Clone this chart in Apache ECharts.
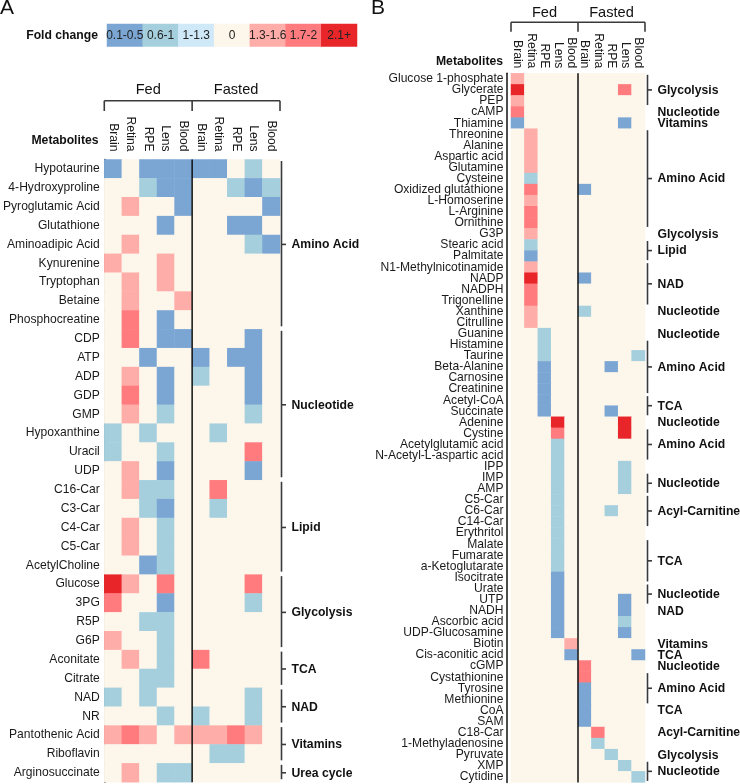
<!DOCTYPE html>
<html><head><meta charset="utf-8">
<script src="https://cdn.jsdelivr.net/npm/echarts@6/dist/echarts.min.js"></script>
<style>html,body{margin:0;padding:0;background:#fff}#c{width:740px;height:784px}</style>
</head><body><div id="c"></div>
<script>
const FONT = 'Liberation Sans, Arial, Helvetica, sans-serif';

// Fold-change classes (code = index)
const legendLabels = ['0.1-0.5','0.6-1','1-1.3','0','1.3-1.6','1.7-2','2.1+'];
const legendColors = ['#7BA6D4','#A6CFDE','#CFE9F9','#FDF6EA','#FFADA8','#FF7B7E','#E8262A'];
const legendCodes = [0,1,2,3,4,5,6];

const conditions = ['Fed','Fasted'];
const tissues = ['Brain','Retina','RPE','Lens','Blood'];

// ---------- Panel A ----------
const metabolitesA = ['Hypotaurine','4-Hydroxyproline','Pyroglutamic Acid','Glutathione','Aminoadipic Acid','Kynurenine','Tryptophan','Betaine','Phosphocreatine','CDP','ATP','ADP','GDP','GMP','Hypoxanthine','Uracil','UDP','C16-Car','C3-Car','C4-Car','C5-Car','AcetylCholine','Glucose','3PG','R5P','G6P','Aconitate','Citrate','NAD','NR','Pantothenic Acid','Riboflavin','Arginosuccinate'];
// columns: Fed Brain, Retina, RPE, Lens, Blood, Fasted Brain, Retina, RPE, Lens, Blood
const valuesA = [
 [0,3,0,0,0,0,0,3,1,3],
 [3,3,1,0,0,3,3,1,0,1],
 [3,4,3,3,0,3,3,3,3,0],
 [3,3,3,0,3,3,3,0,0,3],
 [3,4,3,3,3,3,3,3,1,0],
 [4,3,3,4,3,3,3,3,3,3],
 [3,4,3,4,3,3,3,3,3,3],
 [3,4,3,3,4,3,3,3,3,3],
 [3,5,3,0,3,3,3,3,3,3],
 [3,5,3,0,0,3,3,3,0,3],
 [3,3,0,3,3,0,3,0,0,3],
 [3,4,3,0,3,1,3,3,0,3],
 [3,5,3,0,3,3,3,3,0,3],
 [3,4,3,1,3,3,3,3,1,3],
 [1,3,1,3,3,3,1,3,3,3],
 [1,3,3,1,3,3,3,3,5,3],
 [3,4,3,0,3,3,3,3,0,3],
 [3,4,1,1,3,3,5,3,3,3],
 [3,3,1,0,3,3,1,3,3,3],
 [3,4,3,1,3,3,3,3,3,3],
 [3,4,3,1,3,3,3,3,3,3],
 [3,3,0,1,3,3,3,3,3,3],
 [6,4,3,5,3,3,3,3,5,3],
 [5,3,3,0,3,3,3,3,1,3],
 [3,3,1,1,3,3,3,3,3,3],
 [4,3,3,1,3,3,3,3,3,3],
 [3,4,3,1,3,5,3,3,3,3],
 [3,3,1,1,3,3,3,3,3,3],
 [1,3,1,3,3,3,3,3,1,3],
 [3,3,3,1,3,1,3,3,1,3],
 [4,5,4,3,4,4,4,5,4,3],
 [3,3,3,3,3,3,1,1,3,3],
 [3,4,3,1,1,3,3,3,3,3]
];
const groupNamesA = ['Amino Acid','Nucleotide','Lipid','Glycolysis','TCA','NAD','Vitamins','Urea cycle'];
const groupStartA = [0,9,17,22,26,28,30,32];
const groupEndA   = [8,16,21,25,27,29,31,32];
const groupLineA  = [1,1,1,1,1,1,1,1];

// ---------- Panel B ----------
const metabolitesB = ['Glucose 1-phosphate','Glycerate','PEP','cAMP','Thiamine','Threonine','Alanine','Aspartic acid','Glutamine','Cysteine','Oxidized glutathione','L-Homoserine','L-Arginine','Ornithine','G3P','Stearic acid','Palmitate','N1-Methylnicotinamide','NADP','NADPH','Trigonelline','Xanthine','Citrulline','Guanine','Histamine','Taurine','Beta-Alanine','Carnosine','Creatinine','Acetyl-CoA','Succinate','Adenine','Cystine','Acetylglutamic acid','N-Acetyl-L-aspartic acid','IPP','IMP','AMP','C5-Car','C6-Car','C14-Car','Erythritol','Malate','Fumarate','a-Ketoglutarate','Isocitrate','Urate','UTP','NADH','Ascorbic acid','UDP-Glucosamine','Biotin','Cis-aconitic acid','cGMP','Cystathionine','Tyrosine','Methionine','CoA','SAM','C18-Car','1-Methyladenosine','Pyruvate','XMP','Cytidine'];
const valuesB = [
 [4,3,3,3,3,3,3,3,3,3],
 [6,3,3,3,3,3,3,3,5,3],
 [4,3,3,3,3,3,3,3,3,3],
 [5,3,3,3,3,3,3,3,3,3],
 [0,3,3,3,3,3,3,3,0,3],
 [3,4,3,3,3,3,3,3,3,3],
 [3,4,3,3,3,3,3,3,3,3],
 [3,4,3,3,3,3,3,3,3,3],
 [3,4,3,3,3,3,3,3,3,3],
 [3,1,3,3,3,3,3,3,3,3],
 [3,5,3,3,3,0,3,3,3,3],
 [3,4,3,3,3,3,3,3,3,3],
 [3,5,3,3,3,3,3,3,3,3],
 [3,5,3,3,3,3,3,3,3,3],
 [3,4,3,3,3,3,3,3,3,3],
 [3,1,3,3,3,3,3,3,3,3],
 [3,0,3,3,3,3,3,3,3,3],
 [3,4,3,3,3,3,3,3,3,3],
 [3,6,3,3,3,0,3,3,3,3],
 [3,5,3,3,3,3,3,3,3,3],
 [3,5,3,3,3,3,3,3,3,3],
 [3,4,3,3,3,1,3,3,3,3],
 [3,4,3,3,3,3,3,3,3,3],
 [3,3,1,3,3,3,3,3,3,3],
 [3,3,1,3,3,3,3,3,3,3],
 [3,3,1,3,3,3,3,3,3,1],
 [3,3,0,3,3,3,3,0,3,3],
 [3,3,0,3,3,3,3,3,3,3],
 [3,3,0,3,3,3,3,3,3,3],
 [3,3,0,3,3,3,3,3,3,3],
 [3,3,0,3,3,3,3,0,3,3],
 [3,3,3,6,3,3,3,3,6,3],
 [3,3,3,5,3,3,3,3,6,3],
 [3,3,3,1,3,3,3,3,3,3],
 [3,3,3,1,3,3,3,3,3,3],
 [3,3,3,1,3,3,3,3,1,3],
 [3,3,3,1,3,3,3,3,1,3],
 [3,3,3,1,3,3,3,3,1,3],
 [3,3,3,1,3,3,3,3,3,3],
 [3,3,3,1,3,3,3,1,3,3],
 [3,3,3,1,3,3,3,3,3,3],
 [3,3,3,1,3,3,3,3,3,3],
 [3,3,3,1,3,3,3,3,3,3],
 [3,3,3,1,3,3,3,3,3,3],
 [3,3,3,1,3,3,3,3,3,3],
 [3,3,3,0,3,3,3,3,3,3],
 [3,3,3,0,3,3,3,3,3,3],
 [3,3,3,0,3,3,3,3,0,3],
 [3,3,3,0,3,3,3,3,0,3],
 [3,3,3,0,3,3,3,3,1,3],
 [3,3,3,0,3,3,3,3,0,3],
 [3,3,3,3,4,3,3,3,3,3],
 [3,3,3,3,0,3,3,3,3,0],
 [3,3,3,3,3,5,3,3,3,3],
 [3,3,3,3,3,5,3,3,3,3],
 [3,3,3,3,3,0,3,3,3,3],
 [3,3,3,3,3,0,3,3,3,3],
 [3,3,3,3,3,0,3,3,3,3],
 [3,3,3,3,3,0,3,3,3,3],
 [3,3,3,3,3,3,5,3,3,3],
 [3,3,3,3,3,3,1,3,3,3],
 [3,3,3,3,3,3,3,1,3,3],
 [3,3,3,3,3,3,3,3,1,3],
 [3,3,3,3,3,3,3,3,3,1]
];
const groupNamesB = ['Glycolysis','Nucleotide','Vitamins','Amino Acid','Glycolysis','Lipid','NAD','Nucleotide','Nucleotide','Amino Acid','TCA','Nucleotide','Amino Acid','Nucleotide','Acyl-Carnitine','TCA','Nucleotide','NAD','Vitamins','TCA','Nucleotide','Amino Acid','TCA','Acyl-Carnitine','Glycolysis','Nucleotide'];
const groupStartB = [0,3,4,5,14,15,17,21,23,24,29,31,32,36,38,42,46,48,51,52,53,54,57,59,61,62];
const groupEndB   = [2,3,4,13,14,16,20,21,23,28,30,31,34,37,40,45,47,48,51,52,53,56,57,59,61,63];
const groupLineB  = [1,0,0,1,0,1,1,0,0,1,1,0,1,1,1,1,1,0,0,0,0,1,0,0,0,1];

// ---------- build ----------
const colKeys = [];
conditions.forEach(c => tissues.forEach(t => colKeys.push(c + '|' + t)));
function cells(values) {
  const out = [];
  values.forEach((row, r) => row.forEach((v, c) => out.push([c, r, v])));
  return out;
}
function groupData(names, st, en, ln) {
  return names.map((n, i) => [0, st[i], en[i], ln[i]]);
}
function geom(api, nrows) {
  const s = api.size([1, 1]);
  const cw = Math.abs(s[0]), rh = Math.abs(s[1]);
  const c0 = api.coord([0, 0]);
  const left = c0[0] - cw / 2, top = c0[1] - rh / 2;
  return {cw, rh, left, top, right: left + colKeys.length * cw, bottom: top + nrows * rh, mid: left + tissues.length * cw};
}
function groupRenderer(names, nrows, lineOff, gapTop, gapBot) {
  return function (params, api) {
    const g = geom(api, nrows);
    const st = api.value(1), en = api.value(2), hasLine = api.value(3);
    const x = g.right + lineOff;
    const y1 = g.top + st * g.rh + gapTop;
    const y2 = g.top + (en + 1) * g.rh - gapBot;
    const ym = g.top + (st + en + 1) / 2 * g.rh;
    const ch = [];
    const ls = {stroke: '#3a3a3a', lineWidth: 1.6};
    if (hasLine) {
      ch.push({type: 'line', shape: {x1: x, y1: y1, x2: x, y2: y2}, style: ls});
      ch.push({type: 'line', shape: {x1: x, y1: ym, x2: x + 4.5, y2: ym}, style: ls});
    }
    ch.push({type: 'text', style: {text: names[params.dataIndex], x: x + 10, y: ym + 0.5, fill: '#111',
      fontSize: 12.2, fontWeight: 'bold', fontFamily: FONT, align: 'left', verticalAlign: 'middle'}});
    return {type: 'group', children: ch};
  };
}
function frameRenderer(nrows, o) {
  return function (params, api) {
    const g = geom(api, nrows);
    const ls = {stroke: '#3a3a3a', lineWidth: 1.6};
    const hb = g.top - o.hb, ht = g.top - o.ht;
    const ch = [
      {type: 'line', shape: {x1: g.mid, y1: g.top, x2: g.mid, y2: g.bottom}, style: {stroke: '#111', lineWidth: 1.5}},
      {type: 'line', shape: {x1: g.left, y1: hb, x2: g.right, y2: hb}, style: ls},
      {type: 'line', shape: {x1: g.left, y1: hb, x2: g.left, y2: ht}, style: ls},
      {type: 'line', shape: {x1: g.mid, y1: hb, x2: g.mid, y2: ht}, style: ls},
      {type: 'line', shape: {x1: g.right, y1: hb, x2: g.right, y2: ht}, style: ls}
    ];
    conditions.forEach((c, i) => {
      const cx = i === 0 ? (g.left + g.mid) / 2 : (g.mid + g.right) / 2;
      ch.push({type: 'text', style: {text: c, x: cx, y: g.top - o.fy, fill: '#111', fontSize: 14.6,
        fontFamily: FONT, align: 'center', verticalAlign: 'middle'}});
    });
    return {type: 'group', children: ch};
  };
}

const rowLabel = {fontSize: 12.1, color: '#1a1a1a', fontFamily: FONT, interval: 0};
const option = {
  animation: false,
  backgroundColor: '#fff',
  grid: [
    {left: 107, top: 24, width: 250, height: 22.5},
    {left: 103, top: 159.5, width: 177, height: 33 * 18.87},
    {left: 511, top: 73.3, width: 134, height: 64 * 11.08}
  ],
  xAxis: [
    {type: 'category', gridIndex: 0, data: legendLabels, show: false},
    {type: 'category', gridIndex: 1, data: colKeys, position: 'top',
      axisLine: {show: false}, axisTick: {show: false}, splitArea: {show: false}, splitLine: {show: false},
      axisLabel: Object.assign({}, rowLabel, {rotate: 90, margin: 8, formatter: v => v.split('|')[1]})},
    {type: 'category', gridIndex: 2, data: colKeys, position: 'top',
      axisLine: {show: false}, axisTick: {show: false}, splitArea: {show: false}, splitLine: {show: false},
      axisLabel: Object.assign({}, rowLabel, {rotate: 90, margin: 5, formatter: v => v.split('|')[1]})}
  ],
  yAxis: [
    {type: 'category', gridIndex: 0, data: ['Fold change'], axisLine: {show: false}, axisTick: {show: false},
      axisLabel: {fontSize: 12.2, fontWeight: 'bold', color: '#111', fontFamily: FONT, margin: 9}},
    {type: 'category', gridIndex: 1, data: metabolitesA, inverse: true,
      axisLine: {show: true, lineStyle: {color: '#111', width: 1.5}}, axisTick: {show: false},
      splitArea: {show: false}, axisLabel: Object.assign({}, rowLabel, {margin: 4.5})},
    {type: 'category', gridIndex: 2, data: metabolitesB, inverse: true, offset: 4,
      axisLine: {show: true, lineStyle: {color: '#111', width: 1.5}}, axisTick: {show: false},
      splitArea: {show: false}, axisLabel: Object.assign({}, rowLabel, {margin: 3.5, lineHeight: 11})}
  ],
  visualMap: {
    type: 'piecewise', show: false, dimension: 2, seriesIndex: [0, 1, 2],
    pieces: legendCodes.map(i => ({value: i, color: legendColors[i]}))
  },
  graphic: [
    {type: 'text', left: 0, top: -2, style: {text: 'A', fontSize: 21, fontFamily: FONT, fill: '#111'}},
    {type: 'text', left: 371, top: -2, style: {text: 'B', fontSize: 21, fontFamily: FONT, fill: '#111'}},
    {type: 'text', x: 98.5, y: 141, style: {text: 'Metabolites', fontSize: 12.2, fontWeight: 'bold', fontFamily: FONT,
      fill: '#111', align: 'right', verticalAlign: 'middle'}},
    {type: 'text', x: 503, y: 62, style: {text: 'Metabolites', fontSize: 12.2, fontWeight: 'bold', fontFamily: FONT,
      fill: '#111', align: 'right', verticalAlign: 'middle'}}
  ],
  series: [
    {type: 'heatmap', xAxisIndex: 0, yAxisIndex: 0, data: legendCodes.map(i => [i, 0, i]),
      label: {show: true, formatter: p => legendLabels[p.value[0]], fontSize: 12, color: '#222', fontFamily: FONT},
      emphasis: {disabled: true}, itemStyle: {borderWidth: 0}},
    {type: 'heatmap', xAxisIndex: 1, yAxisIndex: 1, data: cells(valuesA), emphasis: {disabled: true}, itemStyle: {borderWidth: 0}},
    {type: 'heatmap', xAxisIndex: 2, yAxisIndex: 2, data: cells(valuesB), emphasis: {disabled: true}, itemStyle: {borderWidth: 0}},
    {type: 'custom', xAxisIndex: 1, yAxisIndex: 1, clip: false, silent: true, z: 5,
      data: [[0, 0]], renderItem: frameRenderer(33, {hb: 58.8, ht: 48.5, fy: 69.5})},
    {type: 'custom', xAxisIndex: 2, yAxisIndex: 2, clip: false, silent: true, z: 5,
      data: [[0, 0]], renderItem: frameRenderer(64, {hb: 51, ht: 41.5, fy: 60})},
    {type: 'custom', xAxisIndex: 1, yAxisIndex: 1, clip: false, silent: true, z: 5,
      data: groupData(groupNamesA, groupStartA, groupEndA, groupLineA),
      renderItem: groupRenderer(groupNamesA, 33, 1.5, 1.5, 3)},
    {type: 'custom', xAxisIndex: 2, yAxisIndex: 2, clip: false, silent: true, z: 5,
      data: groupData(groupNamesB, groupStartB, groupEndB, groupLineB),
      renderItem: groupRenderer(groupNamesB, 64, 2.5, 1.5, 1.5)}
  ]
};
const chart = echarts.init(document.getElementById('c'), null, {renderer: 'canvas'});
chart.setOption(option);
</script></body></html>
